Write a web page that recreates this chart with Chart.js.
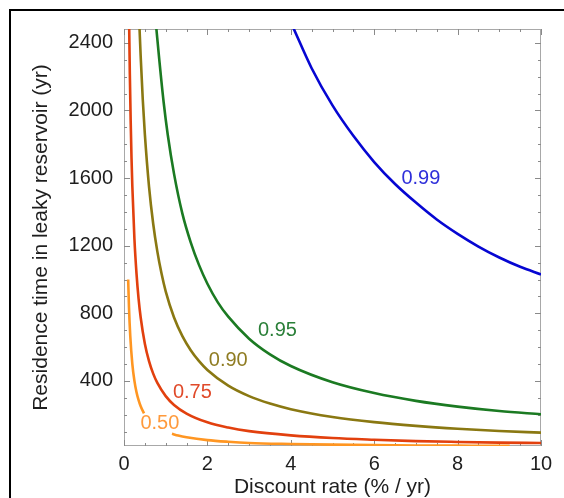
<!DOCTYPE html>
<html>
<head>
<meta charset="utf-8">
<script src="https://cdn.jsdelivr.net/npm/chart.js@4/dist/chart.umd.min.js"></script>
<style>
    html, body { margin: 0; padding: 0; background: #fff; }
    #leakyChart { display: block; }
</style>
</head>
<body>
<canvas id="leakyChart" width="564" height="498"></canvas>
<script>
// values
const rate99 = [4.04, 4.5, 5, 5.5, 6, 6.5, 7, 7.5, 8, 8.5, 9, 9.5, 10]
const time99 = [2500, 2250, 2030, 1850, 1695, 1565, 1455, 1355, 1270, 1195, 1130, 1075, 1030]

const rate95 = [0.77, 0.85, 0.95, 1.05, 1.2, 1.4, 1.6, 1.8, 2, 2.25, 2.5, 3, 3.5, 4, 5, 6, 7, 8, 9, 10]
const time95 = [2500, 2290, 2050, 1855, 1625, 1390, 1220, 1085, 975, 865, 780, 650, 557, 488, 392, 328, 282, 248, 222, 203]

const rate90 = [0.37, 0.4, 0.45, 0.5, 0.6, 0.7, 0.8, 0.9, 1, 1.2, 1.4, 1.6, 1.8, 2, 2.5, 3, 3.5, 4, 5, 6, 7, 8, 9, 10]
const time90 = [2500, 2320, 2065, 1860, 1550, 1330, 1165, 1035, 930, 775, 665, 582, 517, 465, 372, 310, 266, 233, 187, 156, 134, 117, 104, 94]

const rate75 = [0.124, 0.14, 0.16, 0.18, 0.2, 0.25, 0.3, 0.35, 0.4, 0.5, 0.6, 0.7, 0.8, 1, 1.2, 1.5, 2, 2.5, 3, 4, 5, 6, 7, 8, 9, 10]
const time75 = [2500, 2215, 1940, 1720, 1550, 1240, 1035, 885, 775, 620, 517, 443, 388, 310, 258, 207, 155, 124, 103, 78, 62, 52, 44, 39, 35, 33]

// the 0.50 curve is broken where its label sits
const rate50a = [0.1, 0.12, 0.15, 0.2, 0.25, 0.3, 0.35, 0.4, 0.48]
const time50a = [1000, 833, 667, 500, 400, 333, 286, 250, 208]
const rate50b = [1.15, 1.3, 1.5, 2, 2.5, 3, 4, 5, 6, 7, 8, 9, 9.25]
const time50b = [87, 77, 67, 50, 40, 33, 27, 23, 20, 18, 17, 16, 16]

const levelNames = ['0.99', '0.95', '0.90', '0.75', '0.50']
const levelColors = ['#0606d2', '#1b7a22', '#8a7812', '#e2400e', '#ff9622']
const labelColors = ['#2f2fda', '#2a7f38', '#8f7c22', '#e04a2a', '#ff9a3c']
const labelRate = [7.12, 3.68, 2.50, 1.64, 0.86]
const labelTime = [1597, 696, 519, 331, 149]

const xTicks = [0, 2, 4, 6, 8, 10]
const yTicks = [400, 800, 1200, 1600, 2000, 2400]

const FONT = "'Liberation Sans', Arial, Helvetica, sans-serif"
const TEXT = '#1e1e1e'

function toPoints(xs, ys) {
    return xs.map((x, i) => ({ x: x, y: ys[i] }))
}

function curve(xs, ys, color) {
    return {
        data: toPoints(xs, ys),
        borderColor: color,
        borderWidth: 2.6,
        pointRadius: 0,
        fill: false,
        cubicInterpolationMode: 'monotone',
        clip: 0
    }
}

// box, inward ticks, contour labels and the outer frame line
const decorations = {
    id: 'decorations',
    beforeDatasetsDraw(chart) {
        const { ctx, chartArea: a, scales: { x, y } } = chart
        ctx.save()
        ctx.strokeStyle = '#a8a8a8'
        ctx.lineWidth = 1
        ctx.strokeRect(a.left + 0.5, a.top + 0.5, a.right - a.left - 1, a.bottom - a.top - 1)
        ctx.strokeStyle = '#8a8a8a'
        ctx.beginPath()
        for (let v = 0; v <= 10.001; v += 0.5) {
            const px = Math.round(x.getPixelForValue(v)) + 0.5
            const len = Math.abs(v % 2) < 0.01 ? 6 : 3
            ctx.moveTo(px, a.bottom); ctx.lineTo(px, a.bottom - len)
            ctx.moveTo(px, a.top); ctx.lineTo(px, a.top + len)
        }
        for (let v = 100; v <= 2400; v += 100) {
            const py = Math.round(y.getPixelForValue(v)) + 0.5
            const len = v % 400 === 0 ? 6 : 3
            ctx.moveTo(a.left, py); ctx.lineTo(a.left + len, py)
            ctx.moveTo(a.right, py); ctx.lineTo(a.right - len, py)
        }
        ctx.stroke()
        ctx.restore()
    },
    afterDraw(chart) {
        const { ctx, scales: { x, y } } = chart
        ctx.save()
        ctx.font = '20px ' + FONT
        ctx.textAlign = 'center'
        ctx.textBaseline = 'middle'
        levelNames.forEach((name, i) => {
            ctx.fillStyle = labelColors[i]
            ctx.fillText(name, x.getPixelForValue(labelRate[i]), y.getPixelForValue(labelTime[i]))
        })
        ctx.fillStyle = '#000'
        ctx.fillRect(9, 9, 2, chart.height - 9)
        ctx.fillRect(9, 9, chart.width - 9, 2)
        ctx.restore()
    }
}

function createChart() {
    const datasets = [
        curve(rate99, time99, levelColors[0]),
        curve(rate95, time95, levelColors[1]),
        curve(rate90, time90, levelColors[2]),
        curve(rate75, time75, levelColors[3]),
        curve(rate50a, time50a, levelColors[4]),
        curve(rate50b, time50b, levelColors[4])
    ]

    return new Chart(document.getElementById('leakyChart').getContext('2d'), {
        type: 'line',
        data: { datasets },
        plugins: [decorations],
        options: {
            responsive: false,
            animation: false,
            layout: { padding: { top: 29, right: 23, left: 0, bottom: 0 } },
            scales: {
                x: {
                    type: 'linear',
                    min: 0,
                    max: 10,
                    afterBuildTicks: (s) => { s.ticks = xTicks.map(v => ({ value: v })) },
                    afterFit: (s) => { s.height = 52 },
                    grid: { display: false, drawTicks: false },
                    border: { display: false },
                    ticks: {
                        color: TEXT,
                        padding: 6,
                        font: { family: FONT, size: 20 },
                        callback: (value) => String(value)
                    },
                    title: {
                        display: true,
                        text: 'Discount rate (% / yr)',
                        color: TEXT,
                        padding: { top: 0, bottom: 0 },
                        font: { family: FONT, size: 21, lineHeight: 1 }
                    }
                },
                y: {
                    type: 'linear',
                    min: 15,
                    max: 2482,
                    afterBuildTicks: (s) => { s.ticks = yTicks.map(v => ({ value: v })) },
                    afterFit: (s) => { s.width = 124 },
                    grid: { display: false, drawTicks: false },
                    border: { display: false },
                    ticks: {
                        color: TEXT,
                        padding: 11,
                        font: { family: FONT, size: 20 },
                        callback: (value) => String(value)
                    },
                    title: {
                        display: true,
                        text: 'Residence time in leaky reservoir (yr)',
                        color: TEXT,
                        padding: { top: 31, bottom: 0 },
                        font: { family: FONT, size: 21, lineHeight: 1 }
                    }
                }
            },
            plugins: {
                legend: { display: false },
                tooltip: { enabled: false }
            }
        }
    })
}

createChart()
</script>
</body>
</html>
